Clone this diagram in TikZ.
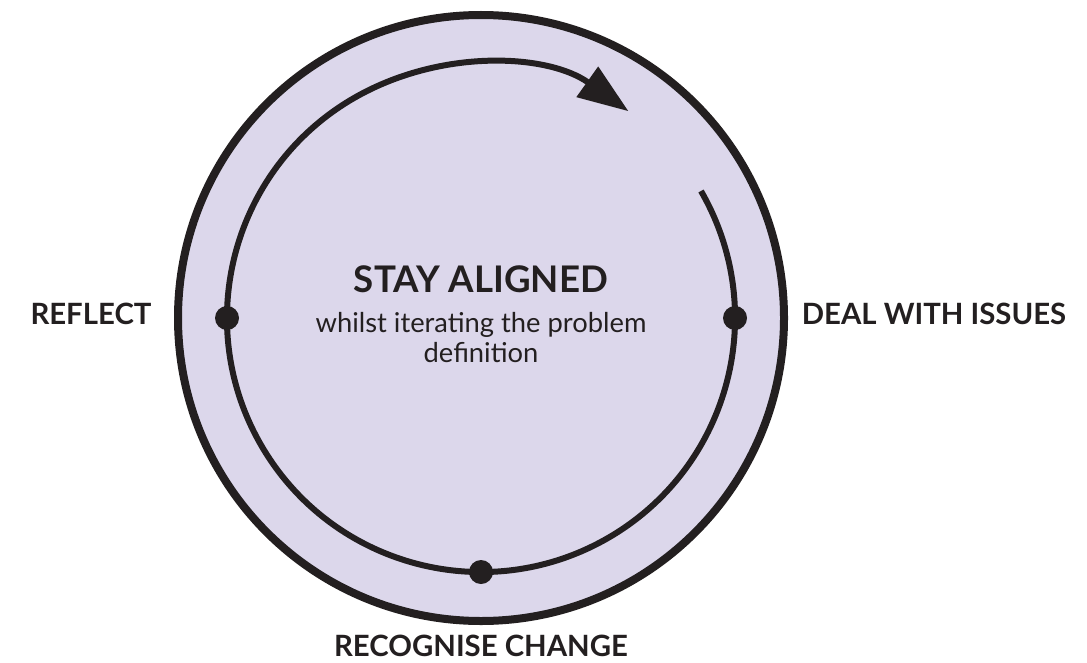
\documentclass[tikz,border=0pt]{standalone}
\usepackage{fontspec}
\setmainfont{Lato}
\usetikzlibrary{arrows.meta}
\definecolor{ink}{HTML}{231F20}
\definecolor{lav}{RGB}{220,215,235}
\begin{document}
\begin{tikzpicture}[x=0.75pt,y=0.75pt,
  label/.style={font=\fontsize{22}{26}\selectfont\bfseries, text=ink},
  dot/.style={circle, fill=ink, inner sep=0pt, minimum size=18pt}]
\useasboundingbox (0,0) rectangle (1087,662);
\coordinate (c) at (481,344);
\fill[lav] (c) circle (303);
\draw[ink, line width=6pt] (c) circle (303);
\draw[ink, line width=4.5pt, -{Triangle[length=38pt,width=27pt]}]
  ([shift={(30:254)}]c) arc[start angle=30, end angle=-305.5, radius=254];
\node[dot] (dl) at ([shift={(180:254)}]c) {};
\node[dot] (dr) at ([shift={(0:254)}]c) {};
\node[dot] (db) at ([shift={(-90:254)}]c) {};
\node[font=\fontsize{27.5}{32}\selectfont\bfseries, text=ink] (title) at (481,383) {STAY ALIGNED};
\node[font=\fontsize{20.5}{22.5}\selectfont, text=ink, align=center] (sub) at (481,324) {whilst iterating the problem\\definition};
\node[label] (reflect) at (91,348) {REFLECT};
\node[label] (deal) at (934,348) {DEAL WITH ISSUES};
\node[label] (rec) at (481,16) {RECOGNISE CHANGE};
\end{tikzpicture}
\end{document}
